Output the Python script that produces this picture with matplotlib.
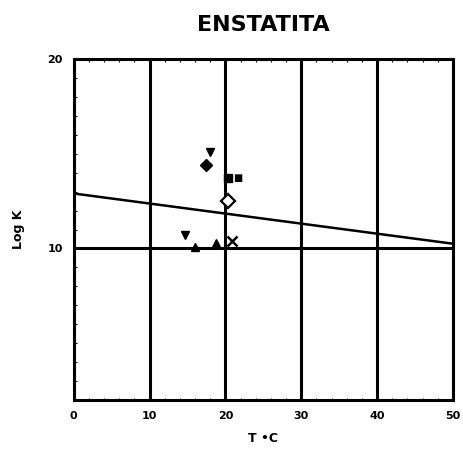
import matplotlib.pyplot as plt
from matplotlib.ticker import MultipleLocator

# regression line (log K vs T)
line_t = [0, 50]
line_k = [12.9, 10.25]

# measured points: (T, logK, marker, filled)
pt_t = [18.0, 17.4, 20.4, 20.4, 14.7, 16.0, 18.7, 20.9]
pt_k = [15.1, 14.4, 13.7, 12.5, 10.7, 10.1, 10.3, 10.4]
pt_m = ['v', 'D', 's', 'D', 'v', '^', '^', 'x']
pt_fill = [True, True, True, False, True, True, True, True]

xticks = [0, 10, 20, 30, 40, 50]
yticks = [10, 20]

fig = plt.figure(figsize=(4.64, 4.5), dpi=100)
ax = fig.add_axes([0.159, 0.111, 0.817, 0.758])

for x in [10, 20, 30, 40]:
    ax.axvline(x, color='black', lw=2.2, zorder=1)
ax.axhline(10, color='black', lw=2.2, zorder=1)

ax.plot(line_t, line_k, color='black', lw=1.8, zorder=2)

for t, k, m, f in zip(pt_t, pt_k, pt_m, pt_fill):
    if m == 'x':
        ax.plot(t, k, marker='x', color='black', ms=7, mew=1.8, zorder=3)
    elif f:
        ax.plot(t, k, marker=m, color='black', ms=6, zorder=3)
    else:
        ax.plot(t, k, marker=m, mfc='white', mec='black', ms=7, mew=1.6, zorder=3)
ax.text(21.0, 13.7, '■', fontsize=7, va='center', ha='left', fontweight='bold')

ax.set_xlim(0, 50)
ax.set_ylim(2, 20)
ax.set_xticks(xticks)
ax.set_yticks(yticks)
ax.set_xticklabels([str(v) for v in xticks], fontsize=8, fontweight='bold')
ax.set_yticklabels([str(v) for v in yticks], fontsize=8, fontweight='bold')
ax.xaxis.set_minor_locator(MultipleLocator(2))
ax.yaxis.set_minor_locator(MultipleLocator(1))
ax.tick_params(which='major', length=0, pad=8)
ax.tick_params(which='minor', direction='in', length=1.8, width=0.8,
               top=True, right=False, bottom=True, left=True)
for s in ax.spines.values():
    s.set_linewidth(2.2)

ax.set_title('ENSTATITA', fontsize=16, fontweight='bold', pad=20)
ax.set_xlabel('T •C', fontsize=9, fontweight='bold', labelpad=8)
ax.set_ylabel('Log K', fontsize=9, fontweight='bold', labelpad=16)

fig.savefig('out.png', dpi=100)
